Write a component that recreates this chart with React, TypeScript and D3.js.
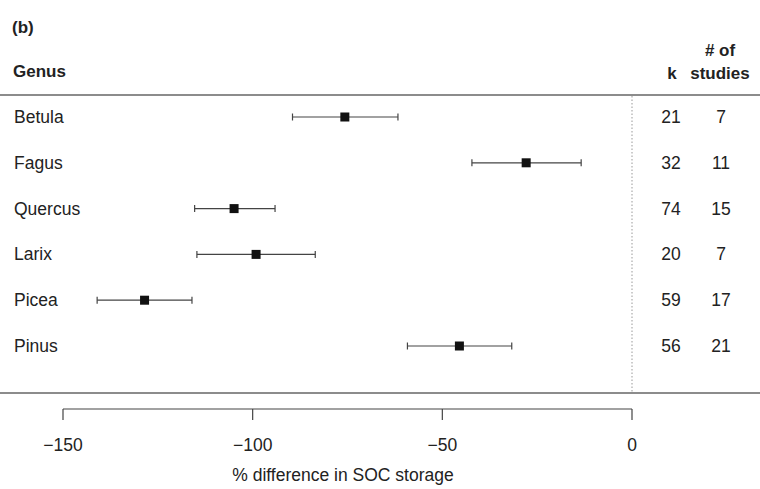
import React from "react";
import * as d3 from "d3";

const genera = ["Betula", "Fagus", "Quercus", "Larix", "Picea", "Pinus"];
const estimates = [-75.7, -27.9, -104.9, -99.1, -128.5, -45.5];
const lowerCI = [-89.5, -42.2, -115.3, -114.7, -141.0, -59.2];
const upperCI = [-61.7, -13.4, -94.1, -83.5, -116.0, -31.7];
const kValues = [21, 32, 74, 20, 59, 56];
const studies = [7, 11, 15, 7, 17, 21];
const xTicks = [-150, -100, -50, 0];

const W = 760;
const H = 489;
const FONT = "Liberation Sans, Arial, Helvetica, sans-serif";

export default function App() {
  const x = d3.scaleLinear().domain([-150, 0]).range([63, 632]);
  const y = d3.scalePoint<string>().domain(genera).range([117, 346]);
  const textColor = "#222";
  const lineColor = "#444";
  const fs = 17.5;

  return (
    <svg
      width={W}
      height={H}
      style={{ position: "absolute", left: 0, top: 0, background: "#fff" }}
      fontFamily={FONT}
    >
      <text x={12} y={33} fontSize={17} fontWeight="bold" fill={textColor}>(b)</text>
      <text x={13} y={77} fontSize={17} fontWeight="bold" fill={textColor}>Genus</text>
      <text x={720} y={56} fontSize={17} fontWeight="bold" fill={textColor} textAnchor="middle"># of</text>
      <text x={672} y={79} fontSize={17} fontWeight="bold" fill={textColor} textAnchor="middle">k</text>
      <text x={720} y={79} fontSize={17} fontWeight="bold" fill={textColor} textAnchor="middle">studies</text>

      <line x1={0} x2={W} y1={95} y2={95} stroke="#666" strokeWidth={1.5} />
      <line x1={0} x2={W} y1={393} y2={393} stroke="#666" strokeWidth={1.5} />
      <line x1={x(0)} x2={x(0)} y1={96} y2={392} stroke="#999" strokeWidth={1} strokeDasharray="1.5,2" />

      {genera.map((g, i) => {
        const cy = y(g)!;
        return (
          <g key={g}>
            <text x={14} y={cy + 6} fontSize={fs} fill={textColor}>{g}</text>
            <line x1={x(lowerCI[i])} x2={x(upperCI[i])} y1={cy} y2={cy} stroke={lineColor} strokeWidth={1.2} />
            <line x1={x(lowerCI[i])} x2={x(lowerCI[i])} y1={cy - 3.5} y2={cy + 3.5} stroke={lineColor} strokeWidth={1.2} />
            <line x1={x(upperCI[i])} x2={x(upperCI[i])} y1={cy - 3.5} y2={cy + 3.5} stroke={lineColor} strokeWidth={1.2} />
            <rect x={x(estimates[i]) - 4.5} y={cy - 4.5} width={9} height={9} fill="#111" />
            <text x={671} y={cy + 6} fontSize={fs} fill={textColor} textAnchor="middle">{kValues[i]}</text>
            <text x={721} y={cy + 6} fontSize={fs} fill={textColor} textAnchor="middle">{studies[i]}</text>
          </g>
        );
      })}

      <line x1={x(-150)} x2={x(0)} y1={409} y2={409} stroke={lineColor} strokeWidth={1.2} />
      {xTicks.map((t) => (
        <g key={t}>
          <line x1={x(t)} x2={x(t)} y1={409} y2={420} stroke={lineColor} strokeWidth={1.2} />
          <text x={x(t)} y={451} fontSize={fs} fill={textColor} textAnchor="middle">
            {t < 0 ? "\u2212" + Math.abs(t) : String(t)}
          </text>
        </g>
      ))}
      <text x={343} y={481} fontSize={fs} fill={textColor} textAnchor="middle">
        % difference in SOC storage
      </text>
    </svg>
  );
}
